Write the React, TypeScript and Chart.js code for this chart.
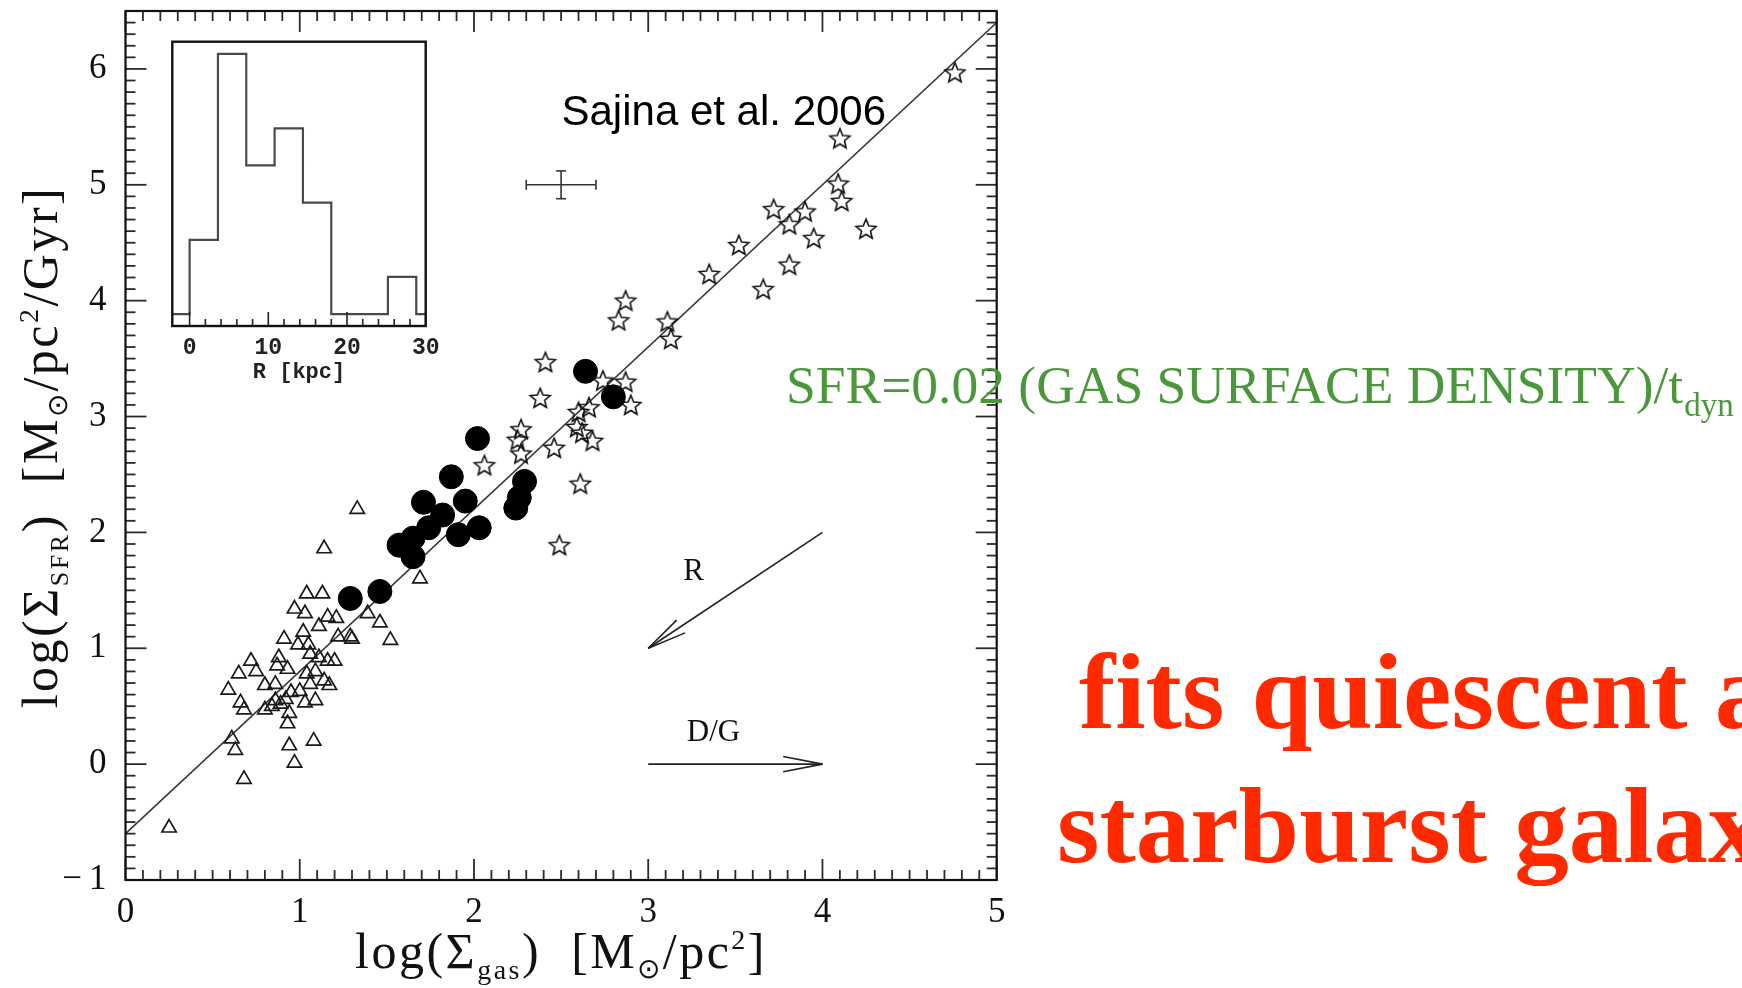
import React, { useEffect, useRef } from 'react';
import { Chart, registerables } from 'chart.js';

Chart.register(...registerables);

// ---- Kennicutt-Schmidt relation: log gas surface density vs log SFR surface density ----

// Quiescent disks (open triangles)
const diskGas = [
  1.33, 1.14, 1.69, 1.04, 1.13, 0.97, 1.03, 1.11, 1.16, 1.21, 1.39, 1.46, 1.52, 0.91, 1.02,
  0.99, 1.05, 1.22, 1.29, 1.30, 0.72, 0.75, 0.65, 0.59, 0.80, 0.86, 0.88, 0.87, 0.93, 1.06,
  1.11, 1.16, 1.20, 1.04, 1.09, 1.14, 1.17, 1.06, 1.00, 0.95, 0.66, 0.68, 0.80, 0.84, 0.86,
  0.89, 0.92, 0.94, 0.93, 1.03, 1.09, 0.61, 0.63, 0.94, 1.08, 0.97, 0.68, 0.25,
];
const diskSfr = [
  2.20, 1.86, 1.60, 1.47, 1.47, 1.34, 1.30, 1.19, 1.27, 1.26, 1.30, 1.22, 1.07, 1.08, 1.14,
  1.03, 1.03, 1.10, 1.10, 1.08, 0.89, 0.80, 0.78, 0.64, 0.68, 0.69, 0.92, 0.85, 0.82, 0.95,
  0.92, 0.89, 0.89, 0.78, 0.80, 0.72, 0.68, 0.69, 0.63, 0.62, 0.53, 0.47, 0.47, 0.50, 0.55,
  0.52, 0.56, 0.44, 0.35, 0.53, 0.55, 0.22, 0.12, 0.16, 0.20, 0.01, -0.13, -0.55,
];

// Circumnuclear starbursts (open stars)
const burstGas = [
  4.76, 4.10, 4.09, 4.11, 4.25, 3.72, 3.90, 3.81, 3.95, 3.52, 3.81, 3.35, 3.66, 2.87, 2.83,
  3.11, 3.13, 2.87, 2.90, 2.74, 2.41, 2.38, 2.27, 2.25, 2.27, 2.06, 2.46, 2.60, 2.66, 2.59,
  2.62, 2.68, 2.61, 2.49,
];
const burstSfr = [
  5.97, 5.40, 5.01, 4.86, 4.62, 4.79, 4.77, 4.66, 4.54, 4.48, 4.31, 4.23, 4.10, 4.00, 3.83,
  3.82, 3.67, 3.30, 3.10, 3.31, 3.47, 3.16, 2.89, 2.80, 2.68, 2.58, 2.73, 3.04, 3.08, 2.91,
  2.86, 2.79, 2.42, 1.89,
];

// Sajina et al. 2006 sources (filled circles)
const sajinaGas = [
  2.64, 2.80, 2.02, 1.87, 1.71, 1.95, 2.29, 2.26, 2.24, 2.03, 1.91, 1.82, 1.74, 1.65, 1.57,
  1.65, 1.46, 1.29,
];
const sajinaSfr = [
  3.39, 3.17, 2.81, 2.48, 2.26, 2.27, 2.44, 2.30, 2.21, 2.04, 1.98, 2.15, 2.04, 1.95, 1.89,
  1.79, 1.49, 1.43,
];

// Best-fit relation end points
const fitGas = [0, 5];
const fitSfr = [-0.6, 6.4];

// Axes
const X_MIN = 0;
const X_MAX = 5;
const Y_MIN = -1;
const Y_MAX = 6.5;
const xTickValues = [0, 1, 2, 3, 4, 5];
const yTickValues = [-1, 0, 1, 2, 3, 4, 5, 6];

// Typical error bar
const typicalErrGas = 2.5;
const typicalErrSfr = 5.0;
const typicalErrDx = 0.2;
const typicalErrDy = 0.12;

// Direction arrows (gas, sfr)
const radiusArrowFrom = [4, 2];
const radiusArrowTo = [3, 1];
const radiusLabelAt = [3.26, 1.66];
const dustArrowFrom = [3, 0];
const dustArrowTo = [4, 0];
const dustLabelAt = [3.375, 0.27];

// Inset: distribution of radii
const radiusBinEdges = [0, 3.6, 7.2, 10.8, 14.4, 18, 21.6, 25.2, 28.8];
const radiusCounts = [2, 7, 4, 5, 3, 0, 0, 1];
const insetTickValues = [0, 10, 20, 30];
const INSET_X_MIN = -2.2;
const INSET_X_MAX = 30;
const INSET_Y_MIN = -0.32;
const INSET_Y_MAX = 7.33;

const SERIF = '"Liberation Serif", "Times New Roman", serif';
const SANS = '"Liberation Sans", Arial, sans-serif';
const MONO = '"Liberation Mono", "Courier New", monospace';
const GREEN = '#4B973C';
const RED = '#FF2A00';

const pairs = (xs: number[], ys: number[]) => xs.map((x, i) => ({ x, y: ys[i] }));

function makeStarImage(): HTMLCanvasElement {
  const c = document.createElement('canvas');
  c.width = 26;
  c.height = 26;
  const g = c.getContext('2d')!;
  g.beginPath();
  for (let i = 0; i < 10; i++) {
    const r = i % 2 === 0 ? 10.5 : 4.7;
    const a = -Math.PI / 2 + (i * Math.PI) / 5;
    const px = 13 + r * Math.cos(a);
    const py = 13.8 + r * Math.sin(a);
    if (i === 0) g.moveTo(px, py);
    else g.lineTo(px, py);
  }
  g.closePath();
  g.lineWidth = 1.6;
  g.strokeStyle = '#111';
  g.stroke();
  return c;
}

type Seg = { t: string; size: number; dy?: number };

function segWidth(ctx: CanvasRenderingContext2D, segs: Seg[], spacing: number) {
  let w = 0;
  for (const s of segs) {
    ctx.font = `${s.size}px ${SERIF}`;
    for (const ch of Array.from(s.t)) w += ctx.measureText(ch).width + spacing;
  }
  return w;
}

function drawSegs(ctx: CanvasRenderingContext2D, segs: Seg[], x: number, y: number, spacing: number) {
  let cx = x;
  ctx.textAlign = 'left';
  ctx.textBaseline = 'alphabetic';
  for (const s of segs) {
    ctx.font = `${s.size}px ${SERIF}`;
    for (const ch of Array.from(s.t)) {
      ctx.fillText(ch, cx, y + (s.dy || 0));
      cx += ctx.measureText(ch).width + spacing;
    }
  }
}

function line(ctx: CanvasRenderingContext2D, x1: number, y1: number, x2: number, y2: number) {
  ctx.beginPath();
  ctx.moveTo(x1, y1);
  ctx.lineTo(x2, y2);
  ctx.stroke();
}

function arrow(ctx: CanvasRenderingContext2D, x1: number, y1: number, x2: number, y2: number) {
  line(ctx, x1, y1, x2, y2);
  const a = Math.atan2(y1 - y2, x1 - x2);
  const head = 40;
  const ang = (11 * Math.PI) / 180;
  for (const s of [-1, 1]) {
    line(ctx, x2, y2, x2 + head * Math.cos(a + s * ang), y2 + head * Math.sin(a + s * ang));
  }
}

const mainDecor = {
  id: 'mainDecor',
  afterDraw(chart: any) {
    const { ctx, chartArea: a } = chart;
    const x = chart.scales.x;
    const y = chart.scales.y;
    ctx.save();

    // inward minor / major ticks on all four sides
    ctx.strokeStyle = '#2a2a2a';
    ctx.lineWidth = 1.8;
    for (let i = X_MIN * 10; i <= X_MAX * 10; i++) {
      const px = x.getPixelForValue(i / 10);
      const len = i % 10 === 0 ? 21 : 10;
      line(ctx, px, a.bottom, px, a.bottom - len);
      line(ctx, px, a.top, px, a.top + len);
    }
    for (let i = Y_MIN * 10; i < Y_MAX * 10; i++) {
      const py = y.getPixelForValue(i / 10);
      const len = i % 10 === 0 ? 21 : 10;
      line(ctx, a.left, py, a.left + len, py);
      line(ctx, a.right, py, a.right - len, py);
    }
    ctx.strokeStyle = '#111';
    ctx.lineWidth = 2.2;
    ctx.strokeRect(a.left, a.top, a.right - a.left, a.bottom - a.top);

    // typical error bar
    ctx.strokeStyle = '#333';
    ctx.lineWidth = 1.6;
    const cx = x.getPixelForValue(typicalErrGas);
    const cy = y.getPixelForValue(typicalErrSfr);
    const xl = x.getPixelForValue(typicalErrGas - typicalErrDx);
    const xr = x.getPixelForValue(typicalErrGas + typicalErrDx);
    const yt = y.getPixelForValue(typicalErrSfr + typicalErrDy);
    const yb = y.getPixelForValue(typicalErrSfr - typicalErrDy);
    line(ctx, xl, cy, xr, cy);
    line(ctx, cx, yt, cx, yb);
    line(ctx, xl, cy - 5, xl, cy + 5);
    line(ctx, xr, cy - 5, xr, cy + 5);
    line(ctx, cx - 5, yt, cx + 5, yt);
    line(ctx, cx - 5, yb, cx + 5, yb);

    // direction arrows
    ctx.strokeStyle = '#222';
    ctx.lineWidth = 1.6;
    arrow(ctx, x.getPixelForValue(radiusArrowFrom[0]), y.getPixelForValue(radiusArrowFrom[1]),
      x.getPixelForValue(radiusArrowTo[0]), y.getPixelForValue(radiusArrowTo[1]));
    arrow(ctx, x.getPixelForValue(dustArrowFrom[0]), y.getPixelForValue(dustArrowFrom[1]),
      x.getPixelForValue(dustArrowTo[0]), y.getPixelForValue(dustArrowTo[1]));
    ctx.fillStyle = '#111';
    ctx.font = `31px ${SERIF}`;
    ctx.textAlign = 'center';
    ctx.textBaseline = 'middle';
    ctx.fillText('R', x.getPixelForValue(radiusLabelAt[0]), y.getPixelForValue(radiusLabelAt[1]));
    ctx.fillText('D/G', x.getPixelForValue(dustLabelAt[0]), y.getPixelForValue(dustLabelAt[1]));

    // data source
    ctx.font = `42px ${SANS}`;
    ctx.textAlign = 'left';
    ctx.textBaseline = 'alphabetic';
    ctx.fillStyle = '#000';
    ctx.fillText('Sajina et al. 2006', 561.5, 125);

    // axis titles
    ctx.fillStyle = '#111';
    const sp = 2.5;
    const xTitle: Seg[] = [
      { t: 'log(\u03a3', size: 50 },
      { t: 'gas', size: 28, dy: 11 },
      { t: ')  [M', size: 50 },
      { t: '\u2299', size: 28, dy: 10 },
      { t: '/pc', size: 50 },
      { t: '2', size: 28, dy: -19 },
      { t: ']', size: 50 },
    ];
    const xw = segWidth(ctx, xTitle, sp);
    drawSegs(ctx, xTitle, 561 - xw / 2, 968, sp);

    const yTitle: Seg[] = [
      { t: 'log(\u03a3', size: 50 },
      { t: 'SFR', size: 26, dy: 11 },
      { t: ')  [M', size: 50 },
      { t: '\u2299', size: 28, dy: 10 },
      { t: '/pc', size: 50 },
      { t: '2', size: 28, dy: -19 },
      { t: '/Gyr]', size: 50 },
    ];
    const yw = segWidth(ctx, yTitle, sp);
    ctx.save();
    ctx.translate(57, 447);
    ctx.rotate(-Math.PI / 2);
    drawSegs(ctx, yTitle, -yw / 2, 0, sp);
    ctx.restore();

    // slide annotations
    ctx.fillStyle = GREEN;
    ctx.font = `53.5px ${SERIF}`;
    ctx.textAlign = 'left';
    ctx.textBaseline = 'alphabetic';
    const mainTxt = 'SFR=0.02 (GAS SURFACE DENSITY)/t';
    ctx.fillText(mainTxt, 786, 403);
    const mw = ctx.measureText(mainTxt).width;
    ctx.font = `33px ${SERIF}`;
    ctx.fillText('dyn', 786 + mw + 1, 416);

    ctx.fillStyle = RED;
    ctx.font = `bold 109px ${SERIF}`;
    ctx.fillText('fits quiescent and', 1079, 728);
    ctx.fillText('starburst galaxies', 1057, 862);

    ctx.restore();
  },
};

const insetDecor = {
  id: 'insetDecor',
  afterDraw(chart: any) {
    const { ctx, chartArea: a } = chart;
    const x = chart.scales.x;
    ctx.save();
    ctx.strokeStyle = '#222';
    ctx.lineWidth = 1.6;
    for (let v = 0; v <= INSET_X_MAX; v += 2) {
      const px = x.getPixelForValue(v);
      const len = v % 10 === 0 ? 14 : 7;
      line(ctx, px, a.bottom, px, a.bottom - len);
    }
    ctx.strokeStyle = '#111';
    ctx.lineWidth = 2.4;
    ctx.strokeRect(a.left, a.top, a.right - a.left, a.bottom - a.top);
    ctx.fillStyle = '#222';
    ctx.font = `bold 22px ${MONO}`;
    ctx.textAlign = 'center';
    ctx.textBaseline = 'middle';
    ctx.fillText('R [kpc]', (a.left + a.right) / 2, 342);
    ctx.restore();
  },
};

export default function App() {
  const mainRef = useRef<HTMLCanvasElement>(null);
  const insetRef = useRef<HTMLCanvasElement>(null);

  useEffect(() => {
    document.body.style.margin = '0';
    const star = makeStarImage();

    const main = new Chart(mainRef.current!, {
      type: 'scatter',
      data: {
        datasets: [
          {
            label: 'Sajina et al. 2006',
            data: pairs(sajinaGas, sajinaSfr),
            pointStyle: 'circle',
            pointRadius: 12,
            pointBorderWidth: 1,
            pointBackgroundColor: '#000',
            pointBorderColor: '#000',
            order: 0,
          },
          {
            label: 'starbursts',
            data: pairs(burstGas, burstSfr),
            pointStyle: star as any,
            pointRadius: 10,
            order: 1,
          },
          {
            label: 'disks',
            data: pairs(diskGas, diskSfr),
            pointStyle: 'triangle',
            pointRadius: 8.3,
            pointBorderWidth: 1.7,
            pointBorderColor: '#1a1a1a',
            pointBackgroundColor: 'rgba(0,0,0,0)',
            order: 2,
          },
          {
            label: 'fit',
            data: pairs(fitGas, fitSfr),
            showLine: true,
            borderColor: '#333',
            borderWidth: 1.5,
            pointRadius: 0,
            order: 3,
          },
        ],
      },
      options: {
        responsive: false,
        animation: false,
        devicePixelRatio: 1,
        events: [],
        layout: { autoPadding: false, padding: { left: 0, right: 745.3, top: 11, bottom: 0 } },
        plugins: { legend: { display: false }, tooltip: { enabled: false } },
        scales: {
          x: {
            type: 'linear',
            min: X_MIN,
            max: X_MAX,
            grid: { display: false, drawTicks: false },
            border: { display: false },
            afterBuildTicks: (s: any) => {
              s.ticks = xTickValues.map((value) => ({ value }));
            },
            afterFit: (s: any) => {
              s.height = 108;
              s.paddingLeft = 0;
              s.paddingRight = 0;
            },
            ticks: {
              color: '#111',
              padding: 12,
              maxRotation: 0,
              font: { family: SERIF, size: 35 },
              callback: (v: any) => String(v),
            },
          },
          y: {
            type: 'linear',
            min: Y_MIN,
            max: Y_MAX,
            grid: { display: false, drawTicks: false },
            border: { display: false },
            afterBuildTicks: (s: any) => {
              s.ticks = yTickValues.map((value) => ({ value }));
            },
            afterFit: (s: any) => {
              s.width = 125.5;
              s.paddingTop = 0;
              s.paddingBottom = 0;
            },
            ticks: {
              color: '#111',
              padding: 19,
              font: { family: SERIF, size: 35 },
              callback: (v: any) => (v < 0 ? '\u2212\u2009' + Math.abs(v) : String(v)),
            },
          },
        },
      },
      plugins: [mainDecor],
    } as any);

    const histPoints = [
      { x: INSET_X_MIN, y: 0 },
      ...radiusCounts.map((c, i) => ({ x: radiusBinEdges[i], y: c })),
      { x: radiusBinEdges[radiusBinEdges.length - 1], y: 0 },
      { x: INSET_X_MAX, y: 0 },
    ];

    const inset = new Chart(insetRef.current!, {
      type: 'line',
      data: {
        datasets: [
          {
            label: 'R',
            data: histPoints,
            stepped: 'before',
            borderColor: '#4a4a4a',
            borderWidth: 2.2,
            pointRadius: 0,
            fill: false,
          },
        ],
      },
      options: {
        responsive: false,
        animation: false,
        devicePixelRatio: 1,
        events: [],
        layout: { autoPadding: false, padding: { left: 22.3, right: 24.3, top: 11.7, bottom: 0 } },
        plugins: { legend: { display: false }, tooltip: { enabled: false } },
        scales: {
          x: {
            type: 'linear',
            min: INSET_X_MIN,
            max: INSET_X_MAX,
            grid: { display: false, drawTicks: false },
            border: { display: false },
            afterBuildTicks: (s: any) => {
              s.ticks = insetTickValues.map((value) => ({ value }));
            },
            afterFit: (s: any) => {
              s.height = 64;
              s.paddingLeft = 0;
              s.paddingRight = 0;
            },
            ticks: {
              color: '#222',
              padding: 8.2,
              maxRotation: 0,
              font: { family: MONO, size: 23, weight: 'bold' },
              callback: (v: any) => String(v),
            },
          },
          y: { type: 'linear', display: false, min: INSET_Y_MIN, max: INSET_Y_MAX },
        },
      },
      plugins: [insetDecor],
    } as any);

    return () => {
      main.destroy();
      inset.destroy();
    };
  }, []);

  return (
    <div style={{ position: 'relative', width: 1742, height: 988, background: '#fff', overflow: 'hidden' }}>
      <canvas
        ref={mainRef}
        width={1742}
        height={988}
        style={{ position: 'absolute', left: 0, top: 0, width: 1742, height: 988 }}
      />
      <canvas
        ref={insetRef}
        width={300}
        height={360}
        style={{ position: 'absolute', left: 150, top: 30, width: 300, height: 360 }}
      />
    </div>
  );
}
